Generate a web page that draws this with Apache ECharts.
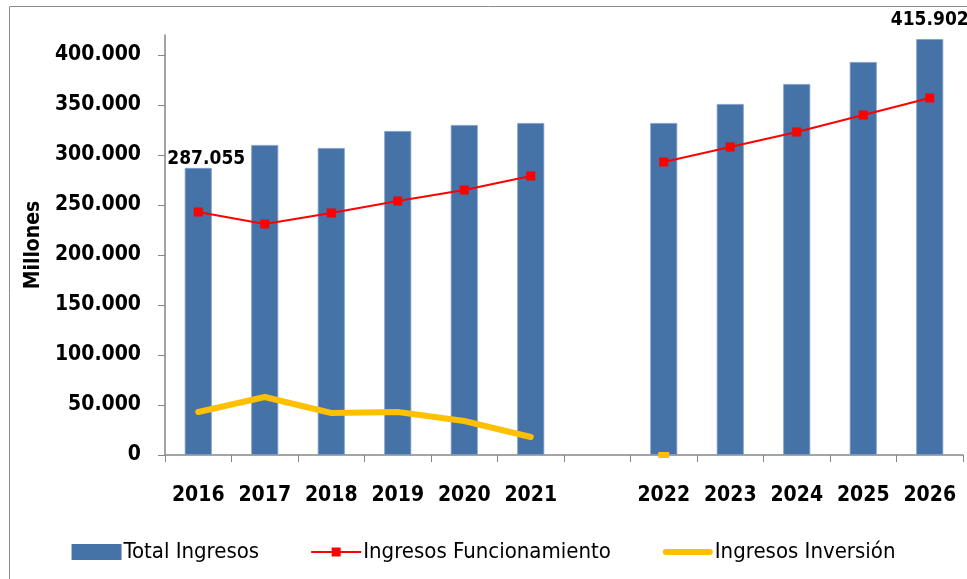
<!DOCTYPE html>
<html>
<head>
<meta charset="utf-8">
<script src="https://cdn.jsdelivr.net/npm/echarts@6/dist/echarts.min.js"></script>
<style>
  html, body { margin: 0; padding: 0; background: #fff; }
  #chart { width: 967px; height: 579px; }
</style>
</head>
<body>
<div id="chart"></div>
<script>
// Data (values in millions, gap between 2021 and 2022)
const years = ['2016', '2017', '2018', '2019', '2020', '2021', '', '2022', '2023', '2024', '2025', '2026'];
const totalIngresos = [287055, 310000, 307000, 324000, 330000, 332000, null, 332000, 351000, 371000, 393000, 415902];
const ingresosFuncionamiento = [243000, 231000, 242000, 254000, 265000, 279000, null, 293000, 308000, 323000, 340000, 357000];
const ingresosInversion = [43000, 58000, 42000, 43000, 34000, 18000, null, 0, null, null, null, null];
const yTicks = [0, 50000, 100000, 150000, 200000, 250000, 300000, 350000, 400000];

const FONT = '"DejaVu Sans Condensed", "Liberation Sans", sans-serif';
const fmt = v => v.toLocaleString('de-DE');

// legend icons (drawn in a 50x16 box)
const ICON_FUNC = 'path://M0,7 L50,7 L50,9 L0,9 Z M20.5,3.5 L29.5,3.5 L29.5,12.5 L20.5,12.5 Z';
const ICON_INV = 'path://M2,5 L48,5 A3,3 0 0 1 48,11 L2,11 A3,3 0 0 1 2,5 Z';

const chart = echarts.init(document.getElementById('chart'));

const barData = totalIngresos.map((v, i) => {
  if (i === 0) {
    return { value: v, label: { show: true, offset: [8, 6] } };
  }
  if (i === totalIngresos.length - 1) {
    return { value: v, label: { show: true, distance: 10 } };
  }
  return v;
});

const invData = ingresosInversion.map((v, i) =>
  i === 7 ? { value: v, symbol: 'rect', symbolSize: [11, 6], symbolOffset: [0, 0] } : v
);

chart.setOption({
  animation: false,
  graphic: [
    {
      type: 'rect',
      shape: { x: 9.5, y: 6.5, width: 1000, height: 600 },
      style: { fill: 'none', stroke: '#8c8c8c', lineWidth: 1 },
      silent: true
    }
  ],
  grid: { left: 165, right: 4, top: 35, bottom: 124 },
  legend: {
    bottom: 11,
    left: 'center',
    itemGap: 52,
    itemWidth: 50,
    itemHeight: 16,
    textStyle: { fontFamily: FONT, fontSize: 22, color: '#000', padding: [0, 0, 0, -3] },
    data: [
      { name: 'Total Ingresos', icon: 'rect', itemStyle: { borderWidth: 0 } },
      { name: 'Ingresos Funcionamiento', icon: ICON_FUNC },
      { name: 'Ingresos Inversión', icon: ICON_INV }
    ]
  },
  xAxis: {
    type: 'category',
    data: years,
    axisLine: { lineStyle: { color: '#868686', width: 1.5 } },
    axisTick: { show: true, length: 7, lineStyle: { color: '#868686' } },
    axisLabel: {
      interval: 0,
      margin: 30,
      fontFamily: FONT,
      fontSize: 21,
      fontWeight: 'bold',
      color: '#000'
    }
  },
  yAxis: {
    type: 'value',
    min: 0,
    max: 420000,
    name: 'Millones',
    nameLocation: 'middle',
    nameGap: 121,
    nameRotate: 90,
    nameTextStyle: { fontFamily: FONT, fontSize: 21, fontWeight: 'bold', color: '#000' },
    splitLine: { show: false },
    axisLine: { show: true, lineStyle: { color: '#868686', width: 1.5 } },
    axisTick: { show: true, length: 7, customValues: yTicks, lineStyle: { color: '#868686' } },
    axisLabel: {
      customValues: yTicks,
      margin: 24,
      fontFamily: FONT,
      fontSize: 21,
      fontWeight: 'bold',
      color: '#000',
      formatter: v => fmt(v)
    }
  },
  series: [
    {
      name: 'Total Ingresos',
      type: 'bar',
      data: barData,
      barWidth: 27,
      itemStyle: { color: '#4572a7', borderColor: '#7f9fc8', borderWidth: 0.8 },
      label: {
        show: false,
        position: 'top',
        fontFamily: FONT,
        fontSize: 19,
        fontWeight: 'bold',
        color: '#000',
        formatter: p => fmt(p.value)
      },
      z: 1
    },
    {
      name: 'Ingresos Funcionamiento',
      type: 'line',
      data: ingresosFuncionamiento,
      connectNulls: false,
      symbol: 'rect',
      symbolSize: 9,
      itemStyle: { color: '#ff0000' },
      lineStyle: { color: '#ff0000', width: 2 },
      z: 3
    },
    {
      name: 'Ingresos Inversión',
      type: 'line',
      data: invData,
      connectNulls: false,
      symbol: 'none',
      itemStyle: { color: '#ffc000' },
      lineStyle: { color: '#ffc000', width: 6, cap: 'round', join: 'round' },
      z: 3
    }
  ]
});
</script>
</body>
</html>
